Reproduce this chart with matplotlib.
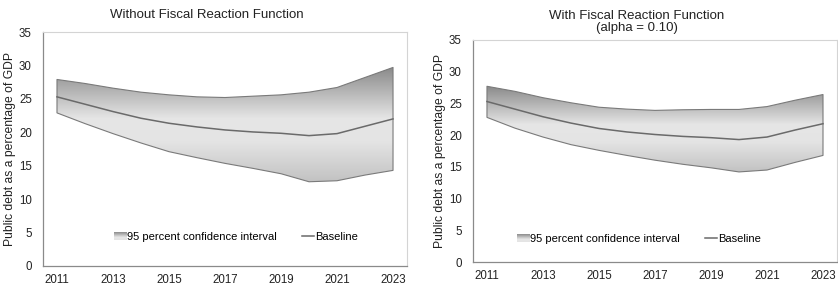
import matplotlib
matplotlib.use("Agg")
import matplotlib.pyplot as plt
import numpy as np
from matplotlib.colors import LinearSegmentedColormap
from matplotlib.lines import Line2D
from matplotlib.patches import Rectangle, Patch
from matplotlib.legend_handler import HandlerBase

plt.rcParams['font.family'] = ['Liberation Sans', 'DejaVu Sans']

years = list(range(2011, 2024))
tickYears = [2011, 2013, 2015, 2017, 2019, 2021, 2023]

# without fiscal reaction function
upperNo = [27.9, 27.3, 26.6, 26.0, 25.6, 25.3, 25.2, 25.4, 25.6, 26.0, 26.7, 28.2, 29.7]
baseNo = [25.3, 24.2, 23.1, 22.1, 21.35, 20.8, 20.35, 20.05, 19.85, 19.5, 19.8, 20.9, 22.0]
lowerNo = [22.9, 21.3, 19.8, 18.4, 17.1, 16.2, 15.35, 14.6, 13.8, 12.6, 12.75, 13.6, 14.3]

# with fiscal reaction function (alpha = 0.10)
upperWith = [27.7, 26.9, 25.9, 25.1, 24.4, 24.1, 23.9, 24.0, 24.05, 24.05, 24.5, 25.5, 26.4]
baseWith = [25.3, 24.1, 22.9, 21.9, 21.05, 20.5, 20.1, 19.8, 19.6, 19.3, 19.7, 20.8, 21.8]
lowerWith = [22.8, 21.1, 19.7, 18.5, 17.6, 16.8, 16.05, 15.4, 14.85, 14.2, 14.5, 15.7, 16.8]

titleNo = "Without Fiscal Reaction Function"
titleWith = "With Fiscal Reaction Function\n(alpha = 0.10)"
yLabel = "Public debt as a percentage of GDP"
ciLabel = "95 percent confidence interval"
baseLabel = "Baseline"

bandCmap = LinearSegmentedColormap.from_list(
    "band", [(0, "#c2c2c2"), (0.35, "#e4e4e4"), (0.55, "#e6e6e6"), (1, "#8a8a8a")])


class GradientHandler(HandlerBase):
    def create_artists(self, legend, orig_handle, xdescent, ydescent,
                       width, height, fontsize, trans):
        artists = []
        n = 8
        for i in range(n):
            c = bandCmap(0.95 - 0.6 * i / (n - 1))
            r = Rectangle((-xdescent, -ydescent + height * (n - 1 - i) / n),
                          width, height / n, facecolor=c, edgecolor='none',
                          transform=trans)
            artists.append(r)
        return artists


def drawPanel(ax, upper, base, lower, legendPos):
    x = np.array(years)
    upper = np.array(upper)
    lower = np.array(lower)
    poly = ax.fill_between(x, lower, upper, facecolor='none',
                           edgecolor='#7a7a7a', linewidth=0.8, zorder=2)
    lo, hi = lower.min(), upper.max()
    grad = np.linspace(0, 1, 256).reshape(-1, 1)
    im = ax.imshow(grad, cmap=bandCmap, origin='lower', aspect='auto',
                   extent=[x[0], x[-1], lo, hi], zorder=1, interpolation='bilinear')
    path = poly.get_paths()[0]
    im.set_clip_path(path, transform=ax.transData)
    ax.plot(x, base, color='#6a6a6a', linewidth=1.1, zorder=3)

    ax.set_xlim(2010.5, 2023.5)
    ax.set_ylim(0, 35)
    ax.set_xticks(tickYears)
    ax.set_yticks(range(0, 36, 5))
    ax.tick_params(length=0, labelsize=8.3, colors='#222222')
    ax.tick_params(axis='y', pad=8)
    ax.tick_params(axis='x', pad=6)
    for side in ['top', 'right']:
        ax.spines[side].set_color('#d4d4d4')
        ax.spines[side].set_linewidth(0.8)
    for side in ['left', 'bottom']:
        ax.spines[side].set_color('#8a8a8a')
        ax.spines[side].set_linewidth(0.9)
    ax.set_ylabel(yLabel, fontsize=8.7, color='#222222', labelpad=2)

    handles = [Patch(label=ciLabel), Line2D([], [], color='#6a6a6a', lw=1.1, label=baseLabel)]
    ax.legend(handles=handles, loc='center', bbox_to_anchor=legendPos,
              ncol=2, frameon=False, fontsize=8, handlelength=1.15, handleheight=0.8,
              handletextpad=0.05, columnspacing=2.2, borderpad=0, borderaxespad=0,
              handler_map={Patch: GradientHandler()})


fig = plt.figure(figsize=(8.38, 2.85), dpi=100)
axLeft = fig.add_axes([0.0513, 0.0667, 0.4344, 0.821])
axRight = fig.add_axes([0.5644, 0.0807, 0.4344, 0.779])

drawPanel(axLeft, upperNo, baseNo, lowerNo, (0.53, 0.124))
drawPanel(axRight, upperWith, baseWith, lowerWith, (0.456, 0.104))

fig.text(207 / 838, 1 - 15 / 285, titleNo, ha='center', va='center', fontsize=9.5, color='#222222')
fig.text(637 / 838, 1 - 22 / 285, titleWith, ha='center', va='center', fontsize=9.5,
         color='#222222', linespacing=1.05)

fig.savefig("out.png", dpi=100)
